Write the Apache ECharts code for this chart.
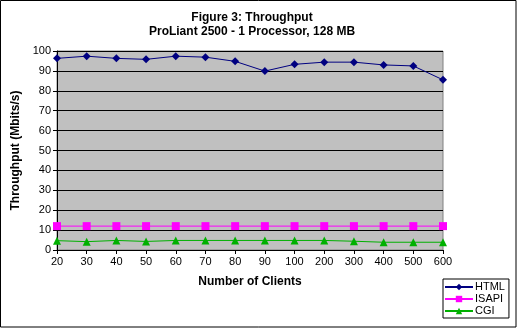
<!DOCTYPE html>
<html>
<head>
<meta charset="utf-8">
<script src="https://cdn.jsdelivr.net/npm/echarts@6/dist/echarts.min.js"></script>
<style>
  html, body { margin: 0; padding: 0; background: #fff; }
  #chart { width: 517px; height: 328px; }
</style>
</head>
<body>
<div id="chart"></div>
<script>
// Number of concurrent clients (category axis)
var clients = ['20', '30', '40', '50', '60', '70', '80', '90', '100', '200', '300', '400', '500', '600'];

// Throughput in Mbits/s per request type
var htmlValues  = [96.3, 97.4, 96.3, 95.8, 97.4, 96.9, 94.8, 89.9, 93.3, 94.4, 94.4, 93.0, 92.5, 85.5];
var isapiValues = [12, 12, 12, 12, 12, 12, 12, 12, 12, 12, 12, 12, 12, 12];
var cgiValues   = [4.7, 4.2, 4.8, 4.3, 4.8, 4.8, 4.8, 4.8, 4.8, 4.8, 4.4, 3.9, 3.9, 3.9];

var yTicks = { min: 0, max: 100, step: 10 };

var font = 'Arial, "Liberation Sans", sans-serif';
var chart = echarts.init(document.getElementById('chart'), null, { renderer: 'canvas' });

chart.setOption({
  animation: false,
  backgroundColor: '#ffffff',
  textStyle: { fontFamily: font, color: '#000' },
  title: {
    text: 'Figure 3: Throughput\nProLiant 2500 - 1 Processor, 128 MB',
    left: 247,
    top: 6,
    textAlign: 'center',
    textStyle: { fontSize: 12, fontWeight: 'bold', color: '#000', lineHeight: 14, fontFamily: font }
  },
  graphic: [{
    type: 'rect',
    shape: { x: 0.5, y: 0.5, width: 515.5, height: 326.5 },
    style: { fill: 'none', stroke: '#000', lineWidth: 1 },
    silent: true
  }],
  legend: {
    orient: 'vertical',
    left: 443,
    top: 279,
    padding: [2, 4, 1, 1],
    itemGap: 0,
    itemWidth: 28,
    itemHeight: 8,
    borderColor: '#000',
    borderWidth: 1,
    backgroundColor: '#fff',
    textStyle: { fontSize: 11, color: '#000', fontFamily: font, padding: [0, 0, 0, -3], lineHeight: 12 },
    data: ['HTML', 'ISAPI', 'CGI']
  },
  grid: {
    left: 57, right: 74, top: 51, bottom: 78,
    show: true,
    backgroundColor: '#c0c0c0',
    borderColor: '#808080',
    borderWidth: 1
  },
  xAxis: {
    type: 'category',
    data: clients,
    boundaryGap: false,
    name: 'Number of Clients',
    nameLocation: 'middle',
    nameGap: 26,
    nameTextStyle: { fontSize: 12, fontWeight: 'bold', color: '#000', fontFamily: font },
    axisLine: { lineStyle: { color: '#000', width: 1 } },
    axisTick: { show: true, length: 4, lineStyle: { color: '#000' } },
    axisLabel: { fontSize: 11, color: '#000', margin: 6, fontFamily: font },
    splitLine: { show: false }
  },
  yAxis: {
    type: 'value',
    min: yTicks.min,
    max: yTicks.max,
    interval: yTicks.step,
    name: 'Throughput (Mbits/s)',
    nameLocation: 'middle',
    nameGap: 29,
    nameTextStyle: { fontSize: 12, fontWeight: 'bold', color: '#000', fontFamily: font },
    axisLine: { show: true, lineStyle: { color: '#000', width: 1 } },
    axisTick: { show: true, length: 4, lineStyle: { color: '#000' } },
    axisLabel: { fontSize: 11, color: '#000', margin: 6, fontFamily: font },
    splitLine: { show: true, lineStyle: { color: '#000', width: 1 } }
  },
  series: [
    {
      name: 'HTML', type: 'line', data: htmlValues,
      symbol: 'diamond', symbolSize: 8,
      lineStyle: { color: '#000080', width: 1 },
      itemStyle: { color: '#000080' }
    },
    {
      name: 'ISAPI', type: 'line', data: isapiValues,
      symbol: 'rect', symbolSize: 8,
      lineStyle: { color: '#ff00ff', width: 1 },
      itemStyle: { color: '#ff00ff' }
    },
    {
      name: 'CGI', type: 'line', data: cgiValues,
      symbol: 'triangle', symbolSize: 8,
      lineStyle: { color: '#00b000', width: 1 },
      itemStyle: { color: '#00b000' }
    }
  ]
});
</script>
</body>
</html>
